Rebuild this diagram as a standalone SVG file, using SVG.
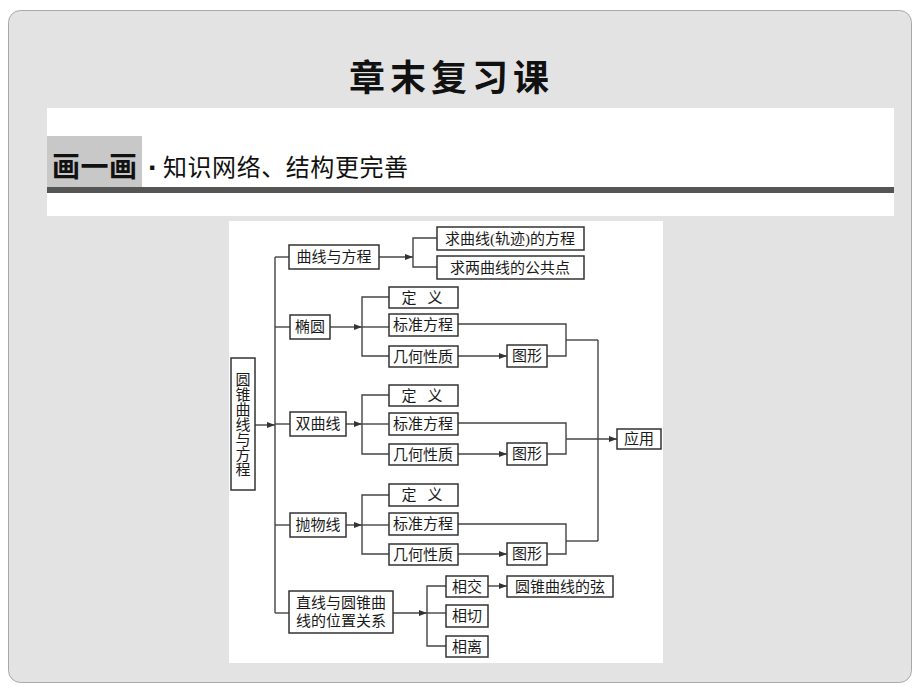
<svg xmlns="http://www.w3.org/2000/svg" width="920" height="690" viewBox="0 0 920 690">
<defs>
<marker id="ah" markerUnits="userSpaceOnUse" markerWidth="8" markerHeight="6" refX="8" refY="3" orient="auto">
<path d="M0,0 L8,3 L0,6 z" fill="#333"/>
</marker>
<style>
.bx{fill:#fff;stroke:#333;stroke-width:1.5}
.ln{fill:none;stroke:#444;stroke-width:1.4}
.ar{fill:none;stroke:#444;stroke-width:1.4;marker-end:url(#ah)}
.t{font-family:"Liberation Serif","Noto Sans CJK SC",serif;font-size:15px;fill:#1a1a1a;text-anchor:middle;dominant-baseline:central}
.h{font-family:"Liberation Sans","Noto Sans CJK SC",sans-serif;fill:#111;dominant-baseline:central}
</style>
</defs>
<rect x="0" y="0" width="920" height="690" fill="#fff"/>
<rect x="8.5" y="10.5" width="903" height="672" rx="12" fill="#e3e3e3" stroke="#a8a8a8" stroke-width="1"/>
<g id="header">
<text class="h" x="349" y="78" font-size="36" font-weight="bold" textLength="200" lengthAdjust="spacing">章末复习课</text>
<rect x="47" y="108" width="847" height="108" fill="#fff"/>
<rect x="47" y="136" width="95" height="51" fill="#c8c8c8"/>
<rect x="47" y="187" width="847" height="6" fill="#555"/>
<text class="h" x="52" y="167" font-size="28" font-weight="bold" textLength="85">画一画</text>
<text class="h" x="148" y="167" font-size="30" font-weight="bold">·</text>
<text class="h" x="163" y="167" font-size="24" textLength="245">知识网络、结构更完善</text>
</g>
<rect x="229" y="221" width="434" height="442" fill="#fff"/>
<g id="connectors">
<line class="ar" x1="255" y1="425" x2="275" y2="425"/>
<line class="ln" x1="275" y1="257" x2="275" y2="613"/>
<line class="ln" x1="275" y1="257" x2="289" y2="257"/>
<line class="ln" x1="275" y1="327" x2="290" y2="327"/>
<line class="ln" x1="275" y1="424" x2="290" y2="424"/>
<line class="ln" x1="275" y1="525" x2="290" y2="525"/>
<line class="ln" x1="275" y1="613" x2="289" y2="613"/>
<line class="ar" x1="379" y1="257" x2="413" y2="257"/>
<polyline class="ln" points="437,238 413,238 413,267 437,267"/>
<line class="ar" x1="330" y1="327" x2="362" y2="327"/>
<polyline class="ln" points="389,297 362,297 362,356 389,356"/>
<line class="ln" x1="362" y1="327" x2="389" y2="327"/>
<line class="ar" x1="458" y1="356" x2="507" y2="356"/>
<polyline class="ln" points="458,324 566,324 566,356 547,356"/>
<line class="ln" x1="566" y1="340" x2="598" y2="340"/>
<line class="ar" x1="346" y1="424" x2="362" y2="424"/>
<polyline class="ln" points="389,395 362,395 362,454 389,454"/>
<line class="ln" x1="362" y1="424" x2="389" y2="424"/>
<line class="ar" x1="458" y1="454" x2="507" y2="454"/>
<polyline class="ln" points="458,423 566,423 566,454 547,454"/>
<line class="ar" x1="566" y1="439" x2="617" y2="439"/>
<line class="ar" x1="346" y1="525" x2="362" y2="525"/>
<polyline class="ln" points="389,495 362,495 362,554 389,554"/>
<line class="ln" x1="362" y1="525" x2="389" y2="525"/>
<line class="ar" x1="458" y1="554" x2="507" y2="554"/>
<polyline class="ln" points="458,524 566,524 566,554 547,554"/>
<line class="ln" x1="566" y1="541" x2="598" y2="541"/>
<line class="ln" x1="598" y1="340" x2="598" y2="541"/>
<line class="ar" x1="393" y1="613" x2="427" y2="613"/>
<polyline class="ln" points="446,586 427,586 427,646 446,646"/>
<line class="ln" x1="427" y1="613" x2="446" y2="613"/>
<line class="ar" x1="488" y1="586" x2="507" y2="586"/>
</g>
<g id="root"><rect class="bx" x="231" y="358" width="24" height="132"/>
<text class="t"><tspan x="243" y="380">圆</tspan><tspan x="243" y="395">锥</tspan><tspan x="243" y="410">曲</tspan><tspan x="243" y="425">线</tspan><tspan x="243" y="440">与</tspan><tspan x="243" y="455">方</tspan><tspan x="243" y="470">程</tspan></text></g>
<g id="n-qxyfc"><rect class="bx" x="289" y="245" width="90" height="24"/><text class="t" x="334" y="257">曲线与方程</text></g>
<g id="n-qgj"><rect class="bx" x="437" y="227" width="147" height="23"/><text class="t" x="510" y="238.5">求曲线(轨迹)的方程</text></g>
<g id="n-ggd"><rect class="bx" x="437" y="256" width="147" height="23"/><text class="t" x="510" y="267.5">求两曲线的公共点</text></g>
<g id="n-ty"><rect class="bx" x="290" y="315" width="40" height="24"/><text class="t" x="310" y="327">椭圆</text></g>
<g id="n-ty-dy"><rect class="bx" x="389" y="287" width="69" height="21"/><text class="t" y="297.5"><tspan x="409">定</tspan><tspan x="435">义</tspan></text></g>
<g id="n-ty-bz"><rect class="bx" x="389" y="314" width="69" height="22"/><text class="t" x="423" y="325">标准方程</text></g>
<g id="n-ty-jh"><rect class="bx" x="389" y="346" width="69" height="21"/><text class="t" x="423" y="356.5">几何性质</text></g>
<g id="n-ty-tx"><rect class="bx" x="507" y="345" width="40" height="22"/><text class="t" x="527" y="356">图形</text></g>
<g id="n-sqx"><rect class="bx" x="290" y="412" width="56" height="24"/><text class="t" x="318" y="424">双曲线</text></g>
<g id="n-sqx-dy"><rect class="bx" x="389" y="385" width="69" height="21"/><text class="t" y="395.5"><tspan x="409">定</tspan><tspan x="435">义</tspan></text></g>
<g id="n-sqx-bz"><rect class="bx" x="389" y="413" width="69" height="22"/><text class="t" x="423" y="424">标准方程</text></g>
<g id="n-sqx-jh"><rect class="bx" x="389" y="444" width="69" height="21"/><text class="t" x="423" y="454.5">几何性质</text></g>
<g id="n-sqx-tx"><rect class="bx" x="507" y="443" width="40" height="22"/><text class="t" x="527" y="454">图形</text></g>
<g id="n-yy"><rect class="bx" x="617" y="429" width="44" height="20"/><text class="t" x="639" y="439">应用</text></g>
<g id="n-pwx"><rect class="bx" x="290" y="513" width="56" height="24"/><text class="t" x="318" y="525">抛物线</text></g>
<g id="n-pwx-dy"><rect class="bx" x="389" y="484" width="69" height="22"/><text class="t" y="495"><tspan x="409">定</tspan><tspan x="435">义</tspan></text></g>
<g id="n-pwx-bz"><rect class="bx" x="389" y="513" width="69" height="22"/><text class="t" x="423" y="524">标准方程</text></g>
<g id="n-pwx-jh"><rect class="bx" x="389" y="544" width="69" height="21"/><text class="t" x="423" y="554.5">几何性质</text></g>
<g id="n-pwx-tx"><rect class="bx" x="507" y="543" width="40" height="22"/><text class="t" x="527" y="554">图形</text></g>
<g id="n-wz"><rect class="bx" x="289" y="591" width="104" height="42"/><text class="t" x="341" y="603">直线与圆锥曲</text><text class="t" x="341" y="621">线的位置关系</text></g>
<g id="n-xj"><rect class="bx" x="446" y="576" width="42" height="21"/><text class="t" x="467" y="586.5">相交</text></g>
<g id="n-xq"><rect class="bx" x="446" y="605" width="42" height="22"/><text class="t" x="467" y="616">相切</text></g>
<g id="n-xl"><rect class="bx" x="446" y="636" width="42" height="21"/><text class="t" x="467" y="646.5">相离</text></g>
<g id="n-xian"><rect class="bx" x="507" y="576" width="106" height="21"/><text class="t" x="560" y="586.5">圆锥曲线的弦</text></g>
</svg>
